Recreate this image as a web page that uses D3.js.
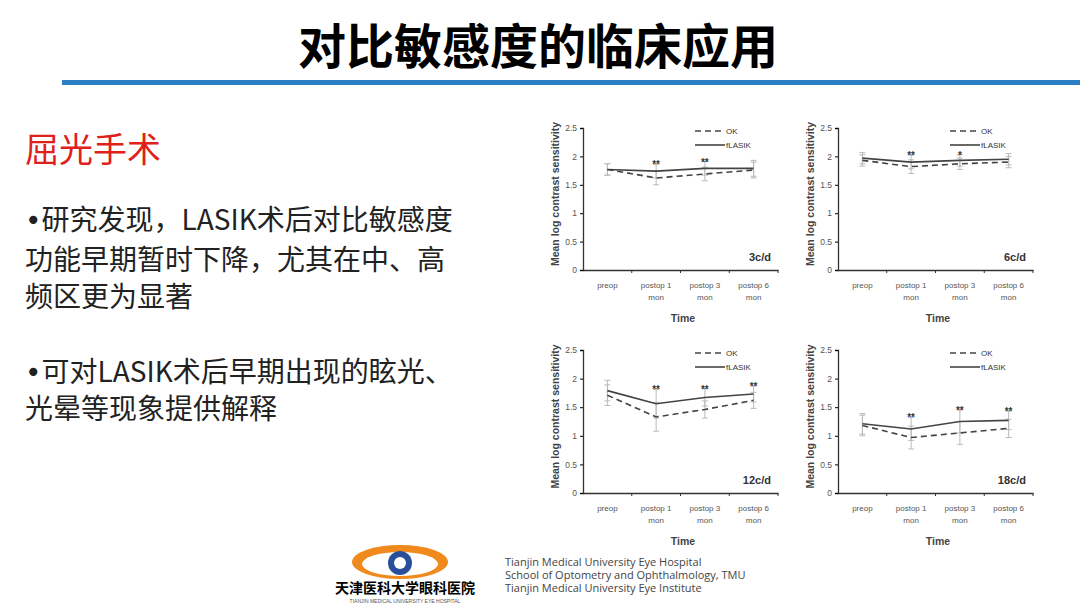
<!DOCTYPE html>
<html><head><meta charset="utf-8">
<script src="https://cdn.jsdelivr.net/npm/d3@7"></script>
<style>body{margin:0;background:#fff}svg{display:block}</style>
</head><body>
<script>
const categories = ['preop', 'postop 1|mon', 'postop 3|mon', 'postop 6|mon'];
const yTicks = [0, 0.5, 1, 1.5, 2, 2.5];
const panelNames = ['3c/d', '6c/d', '12c/d', '18c/d'];
const okValues = [[1.77, 1.62, 1.69, 1.76], [1.93, 1.82, 1.87, 1.90], [1.71, 1.33, 1.46, 1.62], [1.18, 0.97, 1.05, 1.13]];
const lasikValues = [[1.77, 1.74, 1.79, 1.79], [1.97, 1.90, 1.93, 1.95], [1.79, 1.56, 1.67, 1.73], [1.21, 1.12, 1.25, 1.27]];
const errValues = [[0.1, 0.12, 0.12, 0.14], [0.1, 0.12, 0.1, 0.1], [0.18, 0.25, 0.15, 0.14], [0.18, 0.2, 0.2, 0.16]];
const stars = [['', '**', '**', ''], ['', '**', '*', ''], ['', '**', '**', '**'], ['', '**', '**', '**']];

const svg = d3.select('body').append('svg').attr('width', 1080).attr('height', 608);
const cjk = '"Noto Sans CJK SC", sans-serif';

svg.append('text').attr('x', 538).attr('y', 64).attr('text-anchor', 'middle')
  .attr('font-family', cjk).attr('font-weight', 700).attr('font-size', 48).text('对比敏感度的临床应用');
svg.append('rect').attr('x', 62).attr('y', 80).attr('width', 1018).attr('height', 5).attr('fill', '#2c7fc4');

svg.append('text').attr('x', 25).attr('y', 162).attr('fill', '#e0201b')
  .attr('font-family', cjk).attr('font-size', 34).text('屈光手术');
const lines = [['•', '研究发现，LASIK术后对比敏感度', 230], ['', '功能早期暂时下降，尤其在中、高', 270], ['', '频区更为显著', 307], ['•', '可对LASIK术后早期出现的眩光、', 382], ['', '光晕等现象提供解释', 419]];
lines.forEach(l => {
  const t = svg.append('text').attr('x', 25).attr('y', l[2]).attr('font-family', cjk)
    .attr('font-size', 28).attr('fill', '#222');
  if (l[0]) t.append('tspan').attr('font-family', 'DejaVu Sans').text(l[0]);
  t.append('tspan').text(l[1]);
});

const panels = [[583, 128, 270], [838, 128, 270], [583, 350, 493], [838, 350, 493]];
panels.forEach((p, i) => {
  const g = svg.append('g');
  const x = d3.scaleBand().domain(categories).range([p[0], p[0] + 195]);
  const y = d3.scaleLinear().domain([0, 2.5]).range([p[2], p[1]]);
  const ya = g.append('g').attr('transform', `translate(${p[0]},0)`)
    .call(d3.axisLeft(y).tickValues(yTicks).tickFormat(d3.format('')).tickSize(3));
  const xa = g.append('g').attr('transform', `translate(0,${p[2]})`)
    .call(d3.axisBottom(x).tickSize(0).tickFormat(''));
  x.domain().forEach((c, k) => {
    const xx = x(c) + x.bandwidth();
    g.append('line').attr('x1', xx).attr('x2', xx).attr('y1', p[2]).attr('y2', p[2] + 3).attr('stroke', '#333');
    const t = g.append('text').attr('x', x(c) + x.bandwidth() / 2).attr('y', p[2] + 18)
      .attr('text-anchor', 'middle').attr('font-family', 'Arial').attr('font-size', 8).attr('fill', '#555');
    c.split('|').forEach((s, j) => t.append('tspan').attr('x', x(c) + x.bandwidth() / 2).attr('dy', j ? 12 : 0).text(s));
  });
  [ya, xa].forEach(a => { a.selectAll('path').attr('stroke', '#333').attr('stroke-width', 1.3);
    a.selectAll('text').attr('font-family', 'Arial').attr('font-size', 8.5).attr('fill', '#555'); });
  const cx = c => x(c) + x.bandwidth() / 2;
  [okValues[i], lasikValues[i]].forEach(vals => vals.forEach((v, k) => {
    const e = errValues[i][k], c = cx(categories[k]);
    g.append('line').attr('x1', c).attr('x2', c).attr('y1', y(v - e)).attr('y2', y(v + e)).attr('stroke', '#bbb');
    [v - e, v + e].forEach(w => g.append('line').attr('x1', c - 3).attr('x2', c + 3).attr('y1', y(w)).attr('y2', y(w)).attr('stroke', '#bbb'));
  }));
  const line = d3.line().x((d, k) => cx(categories[k])).y(d => y(d));
  g.append('path').attr('d', line(okValues[i])).attr('fill', 'none').attr('stroke', '#444').attr('stroke-width', 1.6).attr('stroke-dasharray', '6,4');
  g.append('path').attr('d', line(lasikValues[i])).attr('fill', 'none').attr('stroke', '#444').attr('stroke-width', 1.6);
  stars[i].forEach((s, k) => g.append('text').attr('x', cx(categories[k])).attr('y', y(Math.max(okValues[i][k], lasikValues[i][k]) + errValues[i][k]) + 4)
    .attr('text-anchor', 'middle').attr('font-family', 'Arial').attr('font-weight', 700).attr('font-size', 10).attr('fill', '#333').text(s));
  const lx = p[0] + 112, ly = p[1] + 3;
  g.append('line').attr('x1', lx).attr('x2', lx + 30).attr('y1', ly).attr('y2', ly).attr('stroke', '#444').attr('stroke-width', 1.6).attr('stroke-dasharray', '6,4');
  g.append('line').attr('x1', lx).attr('x2', lx + 30).attr('y1', ly + 14).attr('y2', ly + 14).attr('stroke', '#444').attr('stroke-width', 1.6);
  g.append('text').attr('x', lx + 31).attr('y', ly + 3).attr('font-family', 'Arial').attr('font-size', 8).attr('fill', '#333').text('OK');
  g.append('text').attr('x', lx + 31).attr('y', ly + 17).attr('font-family', 'Arial').attr('font-size', 8).attr('fill', '#333').text('fLASIK');
  g.append('text').attr('x', p[0] + 188).attr('y', p[2] - 9).attr('text-anchor', 'end').attr('font-family', 'Arial')
    .attr('font-weight', 700).attr('font-size', 11).attr('fill', '#333').text(panelNames[i]);
  g.append('text').attr('x', p[0] + 100).attr('y', p[2] + 52).attr('text-anchor', 'middle').attr('font-family', 'Arial')
    .attr('font-weight', 700).attr('font-size', 10.5).attr('fill', '#444').text('Time');
  g.append('text').attr('transform', `translate(${p[0] - 24},${(p[1] + p[2]) / 2 - 5}) rotate(-90)`).attr('text-anchor', 'middle')
    .attr('font-family', 'Arial').attr('font-weight', 700).attr('font-size', 10.5).attr('fill', '#444').text('Mean log contrast sensitivity');
});

const lg = svg.append('g');
lg.append('ellipse').attr('cx', 400).attr('cy', 562).attr('rx', 48).attr('ry', 17).attr('fill', '#f08a1c');
lg.append('ellipse').attr('cx', 400).attr('cy', 564).attr('rx', 38).attr('ry', 12).attr('fill', '#fff');
lg.append('circle').attr('cx', 400).attr('cy', 563).attr('r', 12).attr('fill', '#2a4f9a');
lg.append('circle').attr('cx', 400).attr('cy', 563).attr('r', 6).attr('fill', '#fff');
lg.append('text').attr('x', 405).attr('y', 593).attr('text-anchor', 'middle').attr('font-family', cjk).attr('font-weight', 700)
  .attr('font-size', 14).text('天津医科大学眼科医院');
lg.append('text').attr('x', 405).attr('y', 603).attr('text-anchor', 'middle').attr('font-family', 'Arial').attr('font-size', 5)
  .attr('fill', '#555').text('TIANJIN MEDICAL UNIVERSITY EYE HOSPITAL');
['Tianjin Medical University Eye Hospital', 'School of Optometry and Ophthalmology, TMU', 'Tianjin Medical University Eye Institute']
  .forEach((t, k) => svg.append('text').attr('x', 505).attr('y', 566 + k * 13).attr('font-family', 'Open Sans').attr('font-size', 11)
    .attr('fill', '#444').text(t));
</script>
</body></html>
